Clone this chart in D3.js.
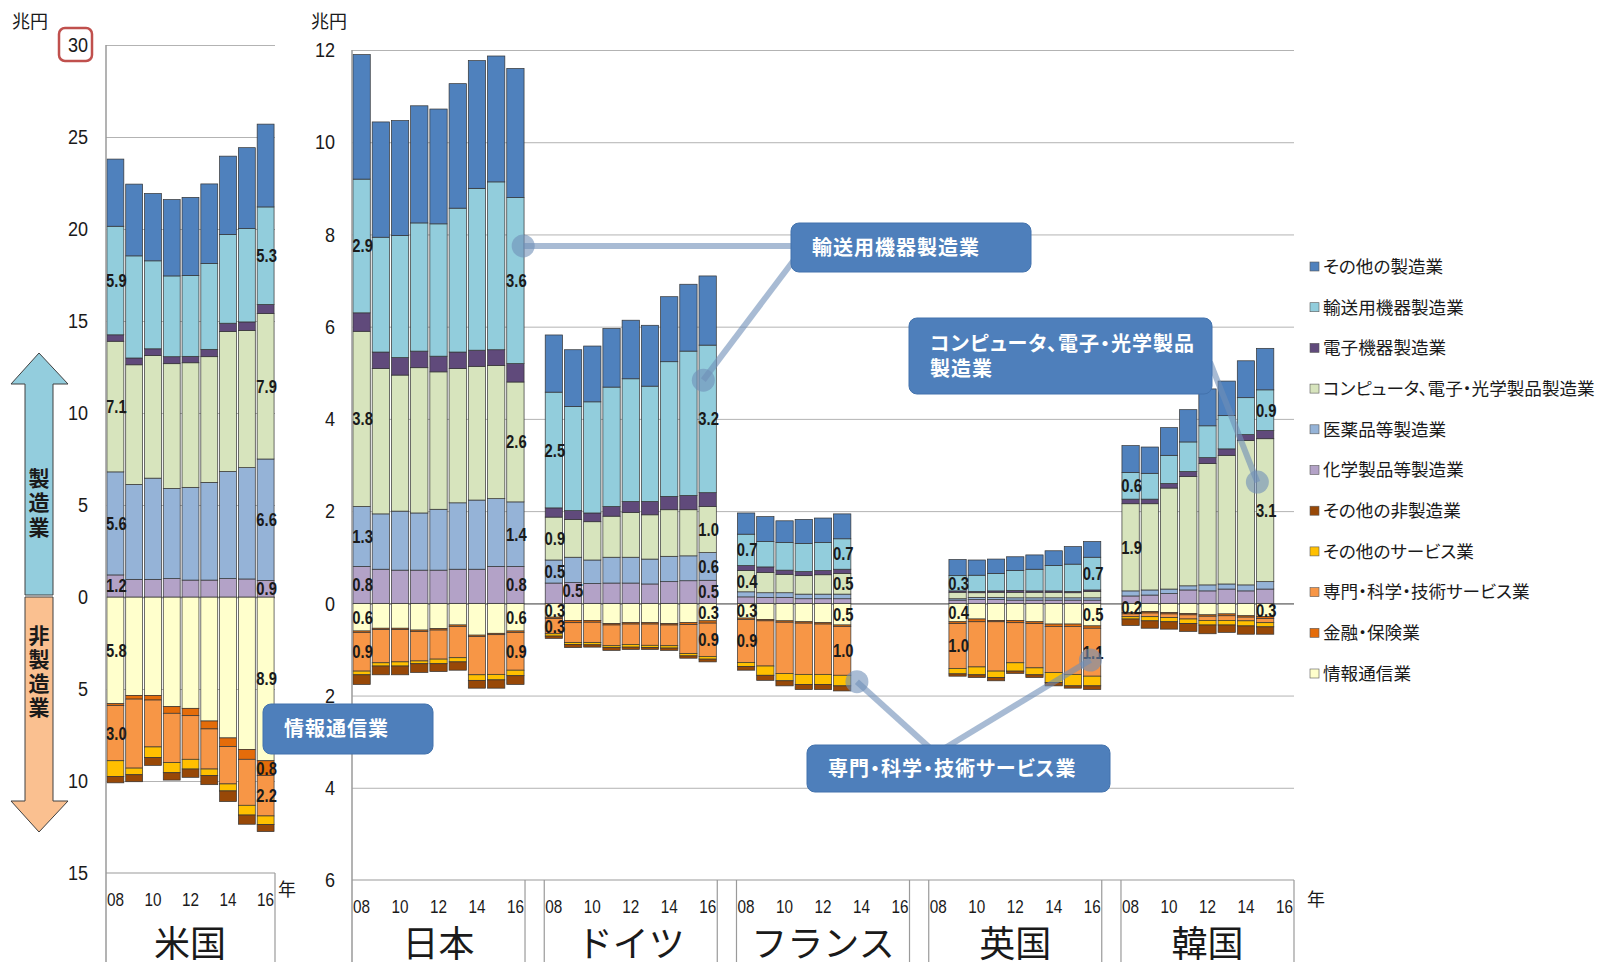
<!DOCTYPE html>
<html>
<head>
<meta charset="utf-8">
<script src="https://cdn.jsdelivr.net/npm/d3@7"></script>
<style>
  body { margin: 0; background: #fff; }
  svg { display: block; }
  text { font-family: "Noto Sans CJK JP", "Noto Sans", sans-serif; fill: #1a1a1a; }
  .num { font-family: "Liberation Sans", Arial, sans-serif; }
</style>
</head>
<body>
<script>
// series in Excel stacking order: 5 non-manufacturing (drawn downward), 6 manufacturing (upward)
const seriesNames = ["情報通信業", "金融・保険業", "専門・科学・技術サービス業", "その他のサービス業", "その他の非製造業",
  "化学製品等製造業", "医薬品等製造業", "コンピュータ、電子・光学製品製造業", "電子機器製造業", "輸送用機器製造業", "その他の製造業"];
const seriesKeys = ["info", "fin", "prof", "serv", "othn", "chem", "pharma", "comp", "elec", "trans", "other"];
const isMfg = [false, false, false, false, false, true, true, true, true, true, true];
const seriesColors = ["#FFFFCC", "#E46C0A", "#F79646", "#FFC000", "#984807",
  "#B3A2C7", "#95B3D7", "#D7E4BD", "#604A7B", "#92CDDC", "#4F81BD"];

const countries = ["米国", "日本", "ドイツ", "フランス", "英国", "韓国"];

// 兆円, rows follow seriesNames
const usYears = [2008, 2009, 2010, 2011, 2012, 2013, 2014, 2015, 2016];
const usValues = [
  [5.8, 5.35, 5.35, 5.96, 6.05, 6.74, 7.66, 8.28, 8.9],
  [0.1, 0.2, 0.25, 0.36, 0.4, 0.43, 0.47, 0.54, 0.8],
  [3.0, 3.75, 2.55, 2.68, 2.37, 2.18, 2.03, 2.5, 2.2],
  [0.85, 0.36, 0.58, 0.55, 0.53, 0.36, 0.38, 0.53, 0.47],
  [0.35, 0.38, 0.42, 0.4, 0.45, 0.49, 0.58, 0.5, 0.38],
  [1.2, 0.96, 0.96, 1.0, 0.92, 0.92, 1.0, 0.98, 0.9],
  [5.6, 5.16, 5.5, 4.9, 5.04, 5.31, 5.82, 6.05, 6.6],
  [7.1, 6.5, 6.66, 6.78, 6.77, 6.83, 7.61, 7.46, 7.9],
  [0.35, 0.37, 0.37, 0.38, 0.35, 0.4, 0.45, 0.46, 0.5],
  [5.9, 5.55, 4.78, 4.39, 4.4, 4.67, 4.82, 5.07, 5.3],
  [3.65, 3.9, 3.66, 4.15, 4.24, 4.32, 4.26, 4.4, 4.5]
];

const jpYears = [2008, 2009, 2010, 2011, 2012, 2013, 2014, 2015, 2016];
const jpValues = [
  [0.6, 0.54, 0.54, 0.58, 0.55, 0.47, 0.69, 0.65, 0.6],
  [0.03, 0.03, 0.03, 0.03, 0.03, 0.03, 0.03, 0.03, 0.03],
  [0.84, 0.72, 0.7, 0.64, 0.63, 0.68, 0.83, 0.86, 0.82],
  [0.08, 0.07, 0.09, 0.06, 0.1, 0.09, 0.12, 0.12, 0.12],
  [0.21, 0.19, 0.19, 0.19, 0.17, 0.18, 0.17, 0.18, 0.19],
  [0.8, 0.74, 0.72, 0.72, 0.72, 0.74, 0.74, 0.8, 0.8],
  [1.3, 1.2, 1.28, 1.24, 1.32, 1.44, 1.5, 1.47, 1.4],
  [3.8, 3.15, 2.95, 3.15, 2.98, 2.91, 2.9, 2.89, 2.6],
  [0.4, 0.36, 0.38, 0.36, 0.34, 0.36, 0.35, 0.34, 0.4],
  [2.9, 2.49, 2.65, 2.78, 2.87, 3.12, 3.51, 3.64, 3.6],
  [2.7, 2.5, 2.49, 2.54, 2.49, 2.7, 2.77, 2.73, 2.8]
];

const deYears = [2008, 2009, 2010, 2011, 2012, 2013, 2014, 2015, 2016];
const deValues = [
  [0.3, 0.37, 0.37, 0.44, 0.42, 0.42, 0.44, 0.42, 0.38],
  [0.03, 0.05, 0.04, 0.03, 0.03, 0.03, 0.03, 0.04, 0.05],
  [0.33, 0.43, 0.44, 0.45, 0.44, 0.46, 0.45, 0.63, 0.72],
  [0.05, 0.04, 0.05, 0.04, 0.06, 0.05, 0.05, 0.05, 0.06],
  [0.05, 0.07, 0.05, 0.06, 0.05, 0.04, 0.05, 0.05, 0.06],
  [0.44, 0.45, 0.43, 0.44, 0.44, 0.42, 0.47, 0.49, 0.5],
  [0.5, 0.55, 0.51, 0.56, 0.56, 0.54, 0.55, 0.54, 0.6],
  [0.93, 0.82, 0.83, 0.89, 0.97, 0.96, 1.01, 1.0, 1.0],
  [0.2, 0.19, 0.19, 0.21, 0.24, 0.29, 0.29, 0.31, 0.3],
  [2.51, 2.26, 2.41, 2.59, 2.66, 2.5, 2.92, 3.13, 3.2],
  [1.24, 1.23, 1.21, 1.27, 1.27, 1.32, 1.41, 1.45, 1.5]
];

const frYears = [2008, 2009, 2010, 2011, 2012, 2013];
const frValues = [
  [0.32, 0.35, 0.38, 0.4, 0.42, 0.47],
  [0.03, 0.03, 0.03, 0.03, 0.03, 0.03],
  [0.93, 0.98, 1.11, 1.11, 1.09, 1.06],
  [0.09, 0.2, 0.16, 0.22, 0.22, 0.23],
  [0.08, 0.11, 0.11, 0.11, 0.11, 0.11],
  [0.14, 0.13, 0.13, 0.1, 0.1, 0.1],
  [0.11, 0.1, 0.1, 0.1, 0.1, 0.1],
  [0.46, 0.44, 0.4, 0.4, 0.42, 0.45],
  [0.11, 0.12, 0.09, 0.09, 0.09, 0.09],
  [0.68, 0.55, 0.6, 0.61, 0.61, 0.66],
  [0.46, 0.54, 0.47, 0.52, 0.53, 0.54]
];

const ukYears = [2009, 2010, 2011, 2012, 2013, 2014, 2015, 2016];
const ukValues = [
  [0.4, 0.34, 0.37, 0.37, 0.4, 0.45, 0.45, 0.49],
  [0.04, 0.06, 0.03, 0.05, 0.04, 0.05, 0.05, 0.05],
  [0.97, 0.98, 1.07, 0.87, 0.96, 1.0, 1.04, 1.04],
  [0.12, 0.17, 0.14, 0.18, 0.15, 0.22, 0.25, 0.21],
  [0.05, 0.06, 0.07, 0.05, 0.06, 0.07, 0.05, 0.08],
  [0.07, 0.08, 0.08, 0.07, 0.07, 0.07, 0.07, 0.07],
  [0.03, 0.05, 0.05, 0.05, 0.05, 0.05, 0.05, 0.05],
  [0.14, 0.1, 0.11, 0.12, 0.12, 0.12, 0.11, 0.14],
  [0.03, 0.03, 0.03, 0.04, 0.03, 0.03, 0.03, 0.03],
  [0.33, 0.35, 0.38, 0.43, 0.47, 0.55, 0.59, 0.71],
  [0.35, 0.33, 0.31, 0.3, 0.31, 0.32, 0.38, 0.34]
];

const krYears = [2008, 2009, 2010, 2011, 2012, 2013, 2014, 2015];
const krValues = [
  [0.2, 0.18, 0.2, 0.22, 0.25, 0.23, 0.27, 0.29],
  [0.03, 0.03, 0.03, 0.03, 0.03, 0.04, 0.03, 0.04],
  [0.06, 0.08, 0.08, 0.09, 0.09, 0.1, 0.08, 0.09],
  [0.05, 0.09, 0.09, 0.1, 0.1, 0.1, 0.11, 0.09],
  [0.14, 0.16, 0.16, 0.17, 0.19, 0.16, 0.18, 0.16],
  [0.16, 0.18, 0.21, 0.29, 0.27, 0.31, 0.27, 0.31],
  [0.11, 0.11, 0.1, 0.09, 0.13, 0.11, 0.13, 0.16],
  [1.89, 1.87, 2.19, 2.37, 2.63, 2.79, 3.13, 3.1],
  [0.1, 0.1, 0.1, 0.11, 0.13, 0.14, 0.13, 0.18],
  [0.58, 0.56, 0.61, 0.64, 0.69, 0.72, 0.8, 0.88],
  [0.58, 0.57, 0.6, 0.7, 0.8, 0.75, 0.8, 0.9]
];

// value labels as printed on the chart: country, year, series key, text
const valueLabels = [
  ["米国", 2008, "trans", "5.9"], ["米国", 2008, "comp", "7.1"], ["米国", 2008, "pharma", "5.6"], ["米国", 2008, "chem", "1.2"],
  ["米国", 2008, "info", "5.8"], ["米国", 2008, "prof", "3.0"],
  ["米国", 2016, "trans", "5.3"], ["米国", 2016, "comp", "7.9"], ["米国", 2016, "pharma", "6.6"], ["米国", 2016, "chem", "0.9"],
  ["米国", 2016, "info", "8.9"], ["米国", 2016, "fin", "0.8"], ["米国", 2016, "prof", "2.2"],
  ["日本", 2008, "trans", "2.9"], ["日本", 2008, "comp", "3.8"], ["日本", 2008, "pharma", "1.3"], ["日本", 2008, "chem", "0.8"],
  ["日本", 2008, "info", "0.6"], ["日本", 2008, "prof", "0.9"],
  ["日本", 2016, "trans", "3.6"], ["日本", 2016, "comp", "2.6"], ["日本", 2016, "pharma", "1.4"], ["日本", 2016, "chem", "0.8"],
  ["日本", 2016, "info", "0.6"], ["日本", 2016, "prof", "0.9"],
  ["ドイツ", 2008, "trans", "2.5"], ["ドイツ", 2008, "comp", "0.9"], ["ドイツ", 2008, "pharma", "0.5"], ["ドイツ", 2008, "chem", "0.5"],
  ["ドイツ", 2008, "info", "0.3"], ["ドイツ", 2008, "prof", "0.3"],
  ["ドイツ", 2016, "trans", "3.2"], ["ドイツ", 2016, "comp", "1.0"], ["ドイツ", 2016, "pharma", "0.6"], ["ドイツ", 2016, "chem", "0.5"],
  ["ドイツ", 2016, "info", "0.3"], ["ドイツ", 2016, "prof", "0.9"],
  ["フランス", 2008, "trans", "0.7"], ["フランス", 2008, "comp", "0.4"], ["フランス", 2008, "info", "0.3"], ["フランス", 2008, "prof", "0.9"],
  ["フランス", 2013, "trans", "0.7"], ["フランス", 2013, "comp", "0.5"], ["フランス", 2013, "info", "0.5"], ["フランス", 2013, "prof", "1.0"],
  ["英国", 2009, "trans", "0.3"], ["英国", 2009, "info", "0.4"], ["英国", 2009, "prof", "1.0"],
  ["英国", 2016, "trans", "0.7"], ["英国", 2016, "info", "0.5"], ["英国", 2016, "prof", "1.1"],
  ["韓国", 2008, "trans", "0.6"], ["韓国", 2008, "comp", "1.9"], ["韓国", 2008, "info", "0.2"],
  ["韓国", 2015, "trans", "0.9"], ["韓国", 2015, "comp", "3.1"], ["韓国", 2015, "info", "0.3"]
];

const usTicks = [-15, -10, -5, 0, 5, 10, 15, 20, 25, 30];
const rightTicks = [-6, -4, -2, 0, 2, 4, 6, 8, 10, 12];
const yearTicks = [2008, 2010, 2012, 2014, 2016];

// table built from the arrays above
const panels = [
  { name: "米国", years: usYears, values: usValues },
  { name: "日本", years: jpYears, values: jpValues },
  { name: "ドイツ", years: deYears, values: deValues },
  { name: "フランス", years: frYears, values: frValues },
  { name: "英国", years: ukYears, values: ukValues },
  { name: "韓国", years: krYears, values: krValues }
];

// crowded label pushed aside, as in the original (country, year, key -> px shift)
const labelShift = [["ドイツ", 2008, "chem", 18, -3]];

const W = 1601, H = 962;
const svg = d3.select("body").append("svg").attr("width", W).attr("height", H);

// squeeze a text horizontally (narrow numerals like the original)
function squeeze(sel, k) {
  sel.each(function () {
    const t = d3.select(this);
    const x = +t.attr("x") || 0, y = +t.attr("y") || 0;
    t.attr("x", 0).attr("y", 0).attr("transform", `translate(${x},${y}) scale(${k},1)`);
  });
}

// scales
const xUS = d3.scaleBand().domain(d3.range(9)).range([106, 275]).paddingInner(0.1).paddingOuter(0.05);
const yUS = d3.scaleLinear().domain([-15, 30]).range([873, 45]);
const xR = d3.scaleBand().domain(d3.range(49)).range([352, 1294]).paddingInner(0.1).paddingOuter(0.05);
const yR = d3.scaleLinear().domain([-6, 12]).range([880, 50]);

function slotOf(pi, year) { return pi === 0 ? year - 2008 : (pi - 1) * 10 + (year - 2008); }

function segmentsOf(pi) {
  const p = panels[pi], out = [];
  p.years.forEach((yr, j) => {
    let up = 0, down = 0;
    seriesNames.forEach((s, i) => {
      const v = p.values[i][j];
      let y0, y1;
      if (isMfg[i]) { y0 = up; y1 = up + v; up = y1; }
      else { y0 = down; y1 = down - v; down = y1; }
      out.push({ panel: p.name, year: yr, key: seriesKeys[i], i, y0, y1, slot: slotOf(pi, yr) });
    });
  });
  return out;
}

function drawGrid(g, y, ticks, x0, x1, lowest) {
  const grid = g.append("g").attr("transform", `translate(${x0},0)`)
    .call(d3.axisLeft(y).tickValues(ticks.filter(t => t !== lowest)).tickSize(-(x1 - x0)).tickFormat(""));
  grid.select(".domain").remove();
  grid.selectAll(".tick line").attr("stroke", d => d === 0 ? "#8c8c8c" : "#b3b3b3")
    .attr("stroke-width", d => d === 0 ? 1.6 : 1);
}

function drawYAxis(g, y, ticks, x0, pad) {
  const ax = g.append("g").attr("transform", `translate(${x0},0)`)
    .call(d3.axisLeft(y).tickValues(ticks).tickSize(0).tickPadding(pad).tickFormat(d => Math.abs(d)));
  ax.select(".domain").remove();
  ax.selectAll("text").attr("class", "num").attr("font-size", 21).attr("fill", "#1a1a1a");
  squeeze(ax.selectAll("text"), 0.86);
}

function drawBars(g, x, y, segs) {
  g.append("g").selectAll("rect").data(segs).join("rect")
    .attr("x", d => x(d.slot))
    .attr("width", x.bandwidth())
    .attr("y", d => y(Math.max(d.y0, d.y1)))
    .attr("height", d => Math.abs(y(d.y0) - y(d.y1)))
    .attr("fill", d => seriesColors[d.i])
    .attr("stroke", "#333")
    .attr("stroke-width", 0.7);
}

function drawLabels(g, x, y, segs) {
  const labs = valueLabels.map(([c, yr, k, txt]) => {
    const s = segs.find(d => d.panel === c && d.year === yr && d.key === k);
    const sh = labelShift.find(l => l[0] === c && l[1] === yr && l[2] === k);
    return s ? { s, txt, dx: sh ? sh[3] : 0, dy: sh ? sh[4] : 0 } : null;
  }).filter(Boolean);
  const t = g.append("g").selectAll("text").data(labs).join("text")
    .attr("class", "num")
    .attr("x", d => x(d.s.slot) + x.bandwidth() / 2 + 1 + d.dx)
    .attr("y", d => y((d.s.y0 + d.s.y1) / 2) + 6.5 + d.dy)
    .attr("text-anchor", "middle")
    .attr("font-size", 18.5)
    .attr("font-weight", "bold")
    .attr("fill", "#000")
    .text(d => d.txt);
  squeeze(t, 0.8);
}

function drawYears(g, x, slots, yTop) {
  const ax = g.append("g").attr("transform", `translate(0,${yTop})`)
    .call(d3.axisBottom(x).tickValues(slots.map(s => s.slot)).tickSize(0).tickPadding(20)
      .tickFormat(v => String(slots.find(s => s.slot === v).year).slice(2)));
  ax.select(".domain").remove();
  ax.selectAll("text").attr("class", "num").attr("font-size", 18).attr("fill", "#1a1a1a");
  squeeze(ax.selectAll("text"), 0.85);
}

const lineColor = "#9a9a9a";

// ---------- US chart ----------
const gUS = svg.append("g");
drawGrid(gUS, yUS, usTicks, 106, 275, -15);
const usSegs = segmentsOf(0);
drawBars(gUS, xUS, yUS, usSegs);
drawLabels(gUS, xUS, yUS, usSegs);
drawYAxis(gUS, yUS, usTicks, 106, 18);
gUS.append("line").attr("x1", 106).attr("x2", 106).attr("y1", 45).attr("y2", H).attr("stroke", lineColor).attr("stroke-width", 1.5);
gUS.append("line").attr("x1", 106).attr("x2", 275).attr("y1", 873).attr("y2", 873).attr("stroke", lineColor).attr("stroke-width", 1.2);
gUS.append("line").attr("x1", 275).attr("x2", 275).attr("y1", 873).attr("y2", H).attr("stroke", lineColor).attr("stroke-width", 1.2);
drawYears(gUS, xUS, yearTicks.map(yr => ({ slot: slotOf(0, yr), year: yr })), 873);
gUS.append("text").attr("x", 278).attr("y", 896).attr("font-size", 18).text("年");
gUS.append("text").attr("x", 190).attr("y", 957).attr("text-anchor", "middle").attr("font-size", 36).text("米国");
gUS.append("text").attr("x", 12).attr("y", 28).attr("font-size", 18).text("兆円");
gUS.append("rect").attr("x", 59).attr("y", 28).attr("width", 33).attr("height", 33).attr("rx", 6)
  .attr("fill", "none").attr("stroke", "#C0504D").attr("stroke-width", 2.5);

// ---------- right chart ----------
const gR = svg.append("g");
drawGrid(gR, yR, rightTicks, 352, 1294, -6);
const rSegs = d3.merge(d3.range(1, 6).map(segmentsOf));
drawBars(gR, xR, yR, rSegs);
drawLabels(gR, xR, yR, rSegs);
drawYAxis(gR, yR, rightTicks, 352, 17);
gR.append("line").attr("x1", 352).attr("x2", 352).attr("y1", 50).attr("y2", H).attr("stroke", lineColor).attr("stroke-width", 1.5);
gR.append("line").attr("x1", 352).attr("x2", 1294).attr("y1", 880).attr("y2", 880).attr("stroke", lineColor).attr("stroke-width", 1.2);
const yearSlots = [];
d3.range(1, 6).forEach(pi => {
  const xs = xR.step() * (pi - 1) * 10 + 352;
  const xe = xs + xR.step() * 9;
  [xs, xe].forEach((xx, k) => {
    if (pi === 1 && k === 0) return;
    gR.append("line").attr("x1", xx).attr("x2", xx).attr("y1", 880).attr("y2", H).attr("stroke", lineColor).attr("stroke-width", 1.2);
  });
  gR.append("text").attr("x", (xs + xe) / 2).attr("y", 957).attr("text-anchor", "middle").attr("font-size", 36).text(panels[pi].name);
  yearTicks.forEach(yr => yearSlots.push({ slot: slotOf(pi, yr), year: yr }));
});
drawYears(gR, xR, yearSlots, 880);
gR.append("text").attr("x", 1307).attr("y", 906).attr("font-size", 18).text("年");
gR.append("text").attr("x", 311).attr("y", 28).attr("font-size", 18).text("兆円");

// ---------- legend ----------
const legend = svg.append("g");
const legendOrder = d3.range(seriesNames.length).reverse();
legendOrder.forEach((i, r) => {
  const cy = 266.5 + r * 40.7;
  legend.append("rect").attr("x", 1310).attr("y", cy - 4.5).attr("width", 9).attr("height", 9)
    .attr("fill", seriesColors[i]).attr("stroke", "#595959").attr("stroke-width", 0.6);
  legend.append("text").attr("x", 1323).attr("y", cy).attr("dy", "0.36em").attr("font-size", 17.6)
    .style("font-feature-settings", "'palt'").text(seriesNames[i]);
});

// ---------- left arrows ----------
const arrows = svg.append("g");
arrows.append("path").attr("d", "M39,353 L68,384 L53,384 L53,595 L25,595 L25,384 L11,384 Z")
  .attr("fill", "#93CDDD").attr("stroke", "#404040").attr("stroke-width", 1);
arrows.append("path").attr("d", "M25,597 L53,597 L53,801 L68,801 L39,832 L11,801 L25,801 Z")
  .attr("fill", "#FAC090").attr("stroke", "#404040").attr("stroke-width", 1);
[["製造業", 467.5, 3.5], ["非製造業", 624.5, 3]].forEach(([s, y0, ls]) =>
  arrows.append("text").attr("x", 39).attr("y", y0)
    .style("writing-mode", "vertical-rl").attr("letter-spacing", ls)
    .attr("font-size", 21).attr("font-weight", "bold").attr("fill", "#262626").text(s));

// ---------- callouts ----------
const ann = svg.append("g");
const connColor = "#6F8FB8";
function anchor(pi, yr, val, frac) {
  return [xR(slotOf(pi, yr)) + xR.bandwidth() * frac, yR(val)];
}
const pJP = anchor(1, 2016, 7.75, 0.95);
const pDE = anchor(2, 2016, 4.84, 0.25);
const pKR = anchor(5, 2015, 2.63, 0.05);
const pFR = anchor(3, 2013, -1.7, 1.35);
const pUK = anchor(4, 2016, -1.23, 0.4);
const connectors = [
  [pJP, [795, pJP[1]]],
  [[797, 256], pDE],
  [[1210, 362], pKR],
  [[930, 748], pFR],
  [[945, 748], pUK]
];
connectors.forEach(([a, b]) => ann.append("line").attr("x1", a[0]).attr("y1", a[1]).attr("x2", b[0]).attr("y2", b[1])
  .attr("stroke", connColor).attr("stroke-width", 6).attr("opacity", 0.6));
[pJP, pDE, pKR, pFR, pUK].forEach(p => ann.append("circle").attr("cx", p[0]).attr("cy", p[1]).attr("r", 11.5)
  .attr("fill", connColor).attr("opacity", 0.6));

const boxes = [
  { x: 791, y: 223, w: 240, h: 49, lines: ["輸送用機器製造業"] },
  { x: 909, y: 318, w: 303, h: 76, lines: ["コンピュータ、電子・光学製品", "製造業"] },
  { x: 263, y: 704, w: 170, h: 50, lines: ["情報通信業"] },
  { x: 807, y: 745, w: 303, h: 47, lines: ["専門・科学・技術サービス業"] }
];
boxes.forEach(b => {
  ann.append("rect").attr("x", b.x).attr("y", b.y).attr("width", b.w).attr("height", b.h).attr("rx", 8)
    .attr("fill", "#4E7FBB").attr("stroke", "#4373ad").attr("stroke-width", 1);
  b.lines.forEach((l, k) => ann.append("text").attr("x", b.x + 21)
    .attr("y", b.y + b.h / 2 + (k - (b.lines.length - 1) / 2) * 25).attr("dy", "0.36em")
    .attr("font-size", 20).attr("font-weight", "bold").attr("letter-spacing", 1)
    .style("font-feature-settings", "'palt'").style("fill", "#fff").text(l));
});
</script>
</body>
</html>
